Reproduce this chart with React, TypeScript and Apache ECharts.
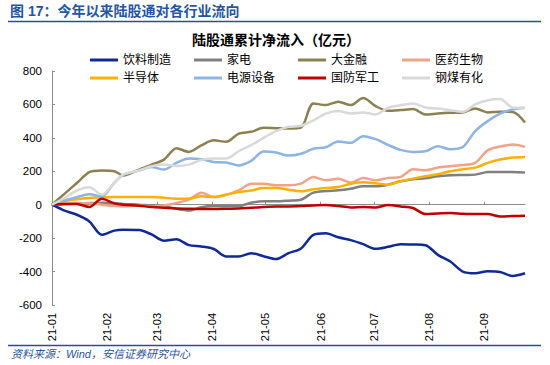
import React, { useEffect, useRef } from "react";
import * as echarts from "echarts";

const FONT = "'Liberation Sans', 'Noto Sans CJK SC', sans-serif";

// Weekly observation dates (2021)
const weekDates = [
  "2021-01-01", "2021-01-08", "2021-01-15", "2021-01-22", "2021-01-29",
  "2021-02-05", "2021-02-10", "2021-02-19", "2021-02-26",
  "2021-03-05", "2021-03-12", "2021-03-19", "2021-03-26",
  "2021-04-02", "2021-04-09", "2021-04-16", "2021-04-23", "2021-04-30",
  "2021-05-07", "2021-05-14", "2021-05-21", "2021-05-28",
  "2021-06-04", "2021-06-11", "2021-06-18", "2021-06-25",
  "2021-07-02", "2021-07-09", "2021-07-16", "2021-07-23", "2021-07-30",
  "2021-08-06", "2021-08-13", "2021-08-20", "2021-08-27",
  "2021-09-03", "2021-09-10", "2021-09-17", "2021-09-24",
];

const seriesNames = ["饮料制造", "家电", "大金融", "医药生物", "半导体", "电源设备", "国防军工", "钢煤有化"];

const beverage = [0, -35, -60, -100, -180, -155, -150, -152, -178, -215, -206, -242, -250, -265, -310, -310, -290, -308, -325, -290, -262, -180, -170, -195, -212, -236, -264, -252, -236, -238, -242, -300, -340, -400, -410, -398, -402, -426, -410];
const appliance = [0, 5, 8, 10, 12, 10, 5, 0, -5, -8, -25, -35, -15, -8, -8, -8, 12, 20, 20, 24, 30, 72, 82, 86, 96, 110, 110, 120, 140, 152, 158, 170, 176, 178, 180, 195, 196, 195, 192];
const finance = [0, 65, 130, 195, 205, 200, 175, 210, 240, 270, 338, 316, 355, 385, 376, 425, 436, 460, 458, 456, 462, 606, 596, 616, 596, 638, 590, 562, 566, 572, 540, 546, 550, 552, 576, 552, 556, 555, 492];
const pharma = [0, 5, 10, 8, 0, -8, -10, -5, -10, -5, 10, 30, 72, 46, 60, 86, 126, 126, 116, 116, 126, 166, 146, 156, 132, 160, 146, 160, 166, 212, 206, 222, 230, 237, 250, 325, 348, 360, 346];
const semi = [0, 20, 32, 40, 44, 46, 46, 46, 46, 42, 36, 36, 50, 46, 60, 76, 85, 100, 100, 90, 80, 92, 100, 106, 125, 134, 128, 120, 140, 156, 170, 182, 200, 212, 222, 250, 270, 282, 286];
const power = [0, 25, 45, 62, 50, 130, 178, 205, 225, 210, 250, 276, 272, 256, 252, 235, 262, 318, 312, 294, 305, 335, 344, 378, 370, 410, 392, 358, 328, 316, 320, 350, 332, 345, 440, 500, 545, 570, 580];
const defense = [0, 5, 5, -14, 35, 8, 0, -6, -14, -18, -22, -24, -26, -26, -24, -22, -18, -14, -10, -10, -8, -4, -2, -8, -16, -14, -16, -2, -10, -20, -56, -52, -50, -54, -56, -56, -70, -68, -66];
const steelCoal = [0, 40, 85, 105, 60, 130, 180, 205, 230, 240, 232, 240, 268, 276, 276, 320, 356, 400, 440, 466, 472, 505, 545, 560, 546, 552, 540, 580, 595, 606, 582, 575, 565, 556, 600, 625, 632, 582, 580];

const seriesValues = [beverage, appliance, finance, pharma, semi, power, defense, steelCoal];
const seriesColors = ["#0F2A96", "#808080", "#8C8150", "#F2A387", "#FFB000", "#8DB4E2", "#C00000", "#D9D9D9"];

const yTicks = { min: -600, max: 800, interval: 200 };

// calendar days for the date axis
function buildDays(start: string, end: string): string[] {
  const out: string[] = [];
  const d = new Date(start + "T00:00:00Z");
  const e = new Date(end + "T00:00:00Z");
  while (d.getTime() <= e.getTime()) {
    out.push(d.toISOString().slice(0, 10));
    d.setUTCDate(d.getUTCDate() + 1);
  }
  return out;
}

const days = buildDays(weekDates[0], weekDates[weekDates.length - 1]);
const isMonthStart = (_i: number, v: string) => v.slice(8, 10) === "01";
const monthLabel = (v: string) => v.slice(2, 4) + "-" + v.slice(5, 7);

export default function App() {
  const ref = useRef<HTMLDivElement>(null);
  useEffect(() => {
    if (!ref.current) return;
    const chart = echarts.init(ref.current, null, { renderer: "svg" });
    const legendCols = [90, 194, 298, 402];
    const legendRows = [54, 72];
    const legends = seriesNames.map((name, i) => ({
      left: legendCols[i % 4],
      top: legendRows[Math.floor(i / 4)],
      data: [name],
      icon: "rect",
      itemWidth: 28,
      itemHeight: 3,
      padding: 0,
      selectedMode: false,
      textStyle: { fontSize: 12, color: "#000", fontFamily: FONT },
    }));
    const series = seriesNames.map((name, i) => ({
      name,
      type: "line",
      xAxisIndex: 0,
      yAxisIndex: 0,
      data: weekDates.map((d, j) => [days.indexOf(d), seriesValues[i][j]]),
      symbol: "none",
      smooth: 0.3,
      color: seriesColors[i],
      lineStyle: { width: 2.5, color: seriesColors[i] },
    }));
    chart.setOption({
      animation: false,
      backgroundColor: "#fff",
      legend: legends,
      grid: { left: 52, right: 25, top: 71, bottom: 60, containLabel: false },
      xAxis: [
        {
          type: "category",
          data: days,
          boundaryGap: false,
          position: "bottom",
          axisLine: { onZero: true, lineStyle: { color: "#8C8C8C", width: 1 } },
          axisTick: { inside: true, length: 3, interval: isMonthStart, lineStyle: { color: "#8C8C8C" } },
          axisLabel: { show: false },
          splitLine: { show: false },
        },
        {
          type: "category",
          data: days,
          boundaryGap: false,
          position: "bottom",
          axisLine: { show: false, onZero: false },
          axisTick: { show: false },
          axisLabel: {
            rotate: 90,
            interval: isMonthStart,
            formatter: monthLabel,
            fontSize: 11,
            color: "#000",
            fontFamily: FONT,
            margin: 8,
          },
          splitLine: { show: false },
        },
      ],
      yAxis: {
        type: "value",
        min: yTicks.min,
        max: yTicks.max,
        interval: yTicks.interval,
        axisLine: { show: true, lineStyle: { color: "#8C8C8C", width: 1 } },
        axisTick: { show: true, inside: true, length: 3, lineStyle: { color: "#8C8C8C" } },
        axisLabel: { fontSize: 11.5, color: "#000", fontFamily: FONT, margin: 10 },
        splitLine: { show: false },
      },
      series,
      graphic: [
        {
          type: "text",
          left: 10,
          top: 4,
          style: {
            text: "图 17：今年以来陆股通对各行业流向",
            fontSize: 14,
            fontWeight: "bold",
            fill: "#2455A4",
            fontFamily: FONT,
          },
        },
        {
          type: "line",
          shape: { x1: 8, y1: 21.5, x2: 541, y2: 21.5 },
          style: { stroke: "#2B4C9B", lineWidth: 1.5 },
        },
        {
          type: "text",
          x: 276,
          y: 40,
          style: {
            text: "陆股通累计净流入（亿元）",
            fontSize: 14,
            fontWeight: "bold",
            fill: "#000",
            fontFamily: FONT,
            align: "center",
            verticalAlign: "middle",
          },
        },
        {
          type: "line",
          shape: { x1: 8, y1: 345.5, x2: 541, y2: 345.5 },
          style: { stroke: "#2B4C9B", lineWidth: 1.5 },
        },
        {
          type: "text",
          x: 11,
          y: 354,
          style: {
            text: "资料来源：Wind，安信证券研究中心",
            fontSize: 11,
            fontStyle: "italic",
            fill: "#2F54A0",
            fontFamily: FONT,
            verticalAlign: "middle",
          },
        },
      ],
    });
    return () => chart.dispose();
  }, []);
  return (
    <div
      ref={ref}
      style={{ position: "absolute", left: 0, top: 0, width: 550, height: 365, background: "#fff" }}
    />
  );
}
